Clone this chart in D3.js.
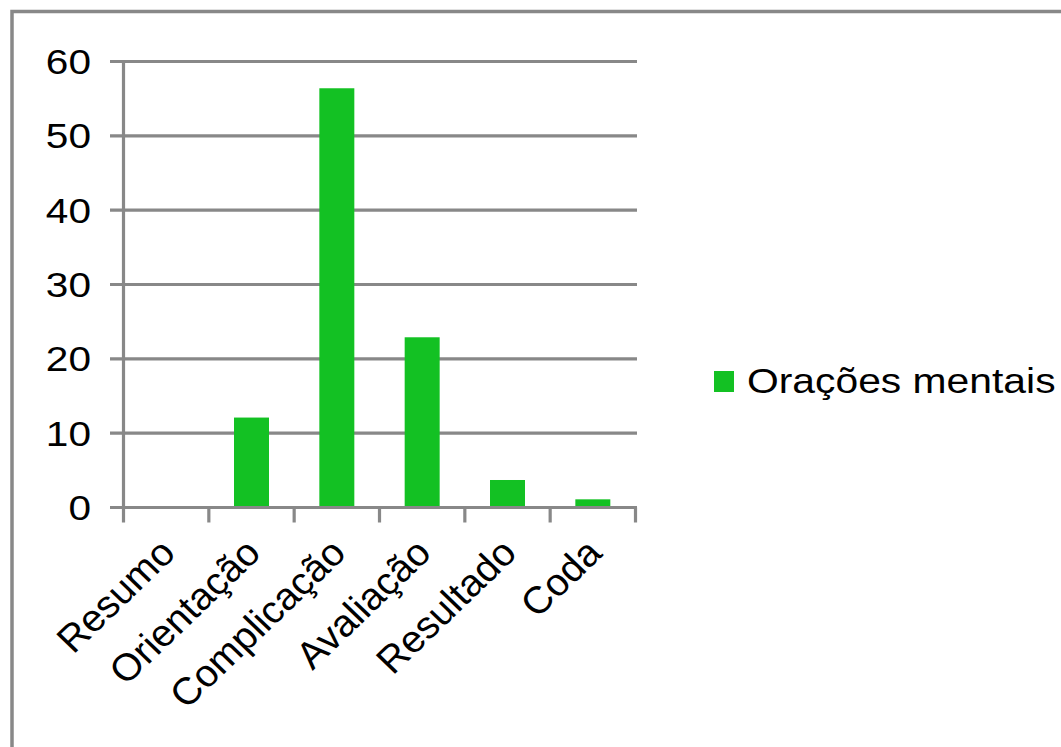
<!DOCTYPE html>
<html><head><meta charset="utf-8">
<script src="https://cdn.jsdelivr.net/npm/d3@7"></script>
<style>body{margin:0;background:#fff}svg{display:block}text{font-family:"Liberation Sans",Arial,sans-serif;fill:#000}</style>
</head><body>
<script>
const categories = ["Resumo","Orientação","Complicação","Avaliação","Resultado","Coda"];
const values = [0, 12.1, 56.4, 22.9, 3.7, 1.1];
const yTicks = [0,10,20,30,40,50,60];
const seriesName = "Orações mentais";

const W = 1061, H = 747;
const sx = 1.16;
const svg = d3.select("body").append("svg").attr("width", W).attr("height", H);
const grey = "#888888", green = "#13c123";

svg.append("rect").attr("x",12).attr("y",11.5).attr("width",1200).attr("height",900)
  .attr("fill","none").attr("stroke",grey).attr("stroke-width",3.5);

const x0 = 123.5, x1 = 635.5, yTop = 61.5, yBot = 507.5;
const x = d3.scaleBand().domain(categories).range([x0, x1]).paddingInner(0.59).paddingOuter(0.295);
const y = d3.scaleLinear().domain([0,60]).range([yBot, yTop]);
const xb = d3.scaleBand().domain(categories).range([x0, x1]);

svg.append("g").selectAll("line").data(yTicks).join("line")
  .attr("x1", 110).attr("x2", 637).attr("y1", d=>y(d)).attr("y2", d=>y(d))
  .attr("stroke", grey).attr("stroke-width", 3.2);

svg.append("line").attr("x1",x0).attr("x2",x0).attr("y1",yTop).attr("y2",yBot+15)
  .attr("stroke",grey).attr("stroke-width",3.2);

const bounds = categories.map(c=>xb(c)).concat([xb(categories[categories.length-1])+xb.bandwidth()]);
svg.append("g").selectAll("line").data(bounds.slice(1)).join("line")
  .attr("x1",d=>d).attr("x2",d=>d).attr("y1",yBot).attr("y2",yBot+15)
  .attr("stroke",grey).attr("stroke-width",3.2);

svg.append("g").selectAll("rect").data(values).join("rect")
  .attr("x",(d,i)=>x(categories[i])).attr("width",x.bandwidth())
  .attr("y",d=>y(d)).attr("height",d=>yBot-y(d)).attr("fill",green);

svg.append("line").attr("x1",110).attr("x2",637).attr("y1",yBot).attr("y2",yBot)
  .attr("stroke",grey).attr("stroke-width",3.2);

svg.append("g").selectAll("text").data(yTicks).join("text")
  .attr("transform", d=>`translate(91,${y(d)}) scale(${sx},1)`)
  .attr("dy","0.36em").attr("text-anchor","end").attr("font-size",35).text(d=>d);

svg.append("g").selectAll("text").data(categories).join("text")
  .attr("transform", c=>`translate(${xb(c)+xb.bandwidth()/2+11},${555}) scale(1.04,1) rotate(-45)`)
  .attr("text-anchor","end").attr("font-size",38).text(c=>c);

svg.append("rect").attr("x",714).attr("y",371).attr("width",20).attr("height",21).attr("fill",green);
svg.append("text").attr("transform",`translate(747,393) scale(${sx},1)`)
  .attr("font-size",35.2).text(seriesName);
</script>
</body></html>
